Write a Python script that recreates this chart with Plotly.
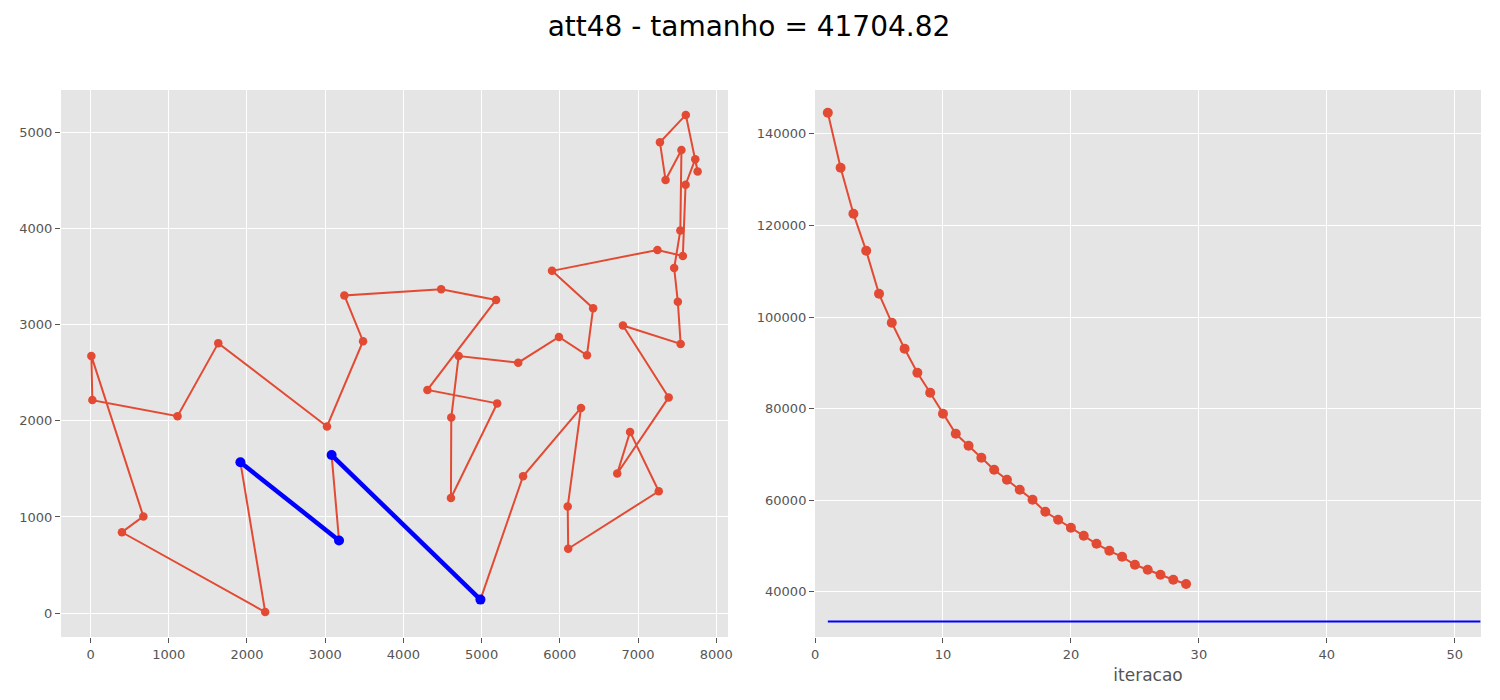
import plotly.graph_objects as go
from plotly.subplots import make_subplots

# att48 city coordinates (index 1..48)
cities_x = [6734, 2233, 5530, 401, 3082, 7608, 7573, 7265, 6898, 1112,
            5468, 5989, 4706, 4612, 6347, 6107, 7611, 7462, 7732, 5900,
            4483, 6101, 5199, 1633, 4307, 675, 7555, 7541, 3177, 7352,
            7545, 3245, 6426, 4608, 23, 7248, 7762, 7392, 3484, 6271,
            4985, 1916, 7280, 7509, 10, 6807, 5185, 3023]
cities_y = [1453, 10, 1424, 841, 1644, 4458, 3716, 1268, 1885, 2049,
            2606, 2873, 2674, 2035, 2683, 669, 5184, 3590, 4723, 3561,
            3369, 1110, 2182, 2809, 2322, 1006, 4819, 3981, 756, 4506,
            2801, 3305, 3173, 1198, 2216, 3779, 4595, 2244, 2829, 2135,
            140, 1569, 4899, 3239, 2676, 2993, 3258, 1942]

# tour (1-based city ids)
tour = [41, 3, 40, 22, 16, 8, 9, 1, 38, 46, 31, 44, 18, 28, 27, 30, 43, 17,
        37, 19, 6, 7, 36, 20, 33, 15, 12, 11, 13, 14, 34, 23, 25, 47, 21, 32,
        39, 48, 24, 10, 35, 45, 26, 4, 2, 42, 29, 5, 41]

# highlighted edges (blue)
swap_edges = [(42, 29), (5, 41)]

# convergence curve
iteracoes = list(range(1, 30))
tamanhos = [144585, 132576, 122533, 114454, 105066, 98734, 93057, 87817,
            83450, 78865, 74498, 71878, 69258, 66638, 64454, 62271, 60087,
            57467, 55721, 53974, 52227, 50480, 48952, 47642, 45895, 44803,
            43712, 42620, 41704.82]
otimo = 33523.71
otimo_x = [1, 52]

red = "#E24A33"
grey = "#555555"

fig = make_subplots(rows=1, cols=2, horizontal_spacing=0.06)

tx = [cities_x[c - 1] for c in tour]
ty = [cities_y[c - 1] for c in tour]
fig.add_trace(go.Scatter(x=tx, y=ty, mode="lines+markers",
                         line=dict(color=red, width=2),
                         marker=dict(color=red, size=8.5),
                         showlegend=False), row=1, col=1)

for a, b in swap_edges:
    fig.add_trace(go.Scatter(x=[cities_x[a - 1], cities_x[b - 1]],
                             y=[cities_y[a - 1], cities_y[b - 1]],
                             mode="lines+markers",
                             line=dict(color="blue", width=4.5),
                             marker=dict(color="blue", size=10),
                             showlegend=False), row=1, col=1)

fig.add_trace(go.Scatter(x=iteracoes, y=tamanhos, mode="lines+markers",
                         line=dict(color=red, width=2),
                         marker=dict(color=red, size=10),
                         showlegend=False), row=1, col=2)
fig.add_trace(go.Scatter(x=otimo_x, y=[otimo, otimo], mode="lines",
                         line=dict(color="blue", width=2),
                         showlegend=False), row=1, col=2)

axis_style = dict(showgrid=True, gridcolor="white", gridwidth=1.2,
                  zeroline=False, showline=False, ticks="outside",
                  ticklen=5, tickcolor=grey, automargin=False,
                  tickfont=dict(family="DejaVu Sans", size=13, color=grey))

fig.update_xaxes(axis_style)
fig.update_yaxes(axis_style)

fig.update_xaxes(domain=[0, 0.4697], range=[-378, 8150], dtick=1000, row=1, col=1)
fig.update_yaxes(range=[-249, 5443], dtick=1000, row=1, col=1)
fig.update_xaxes(domain=[0.531, 1.0], range=[0, 52.05], dtick=10,
                 title=dict(text="iteracao", standoff=8,
                            font=dict(family="DejaVu Sans", size=17, color=grey)),
                 row=1, col=2)
fig.update_yaxes(range=[30130, 149565], dtick=20000, tickformat="d", row=1, col=2)

# page body adds an 8px offset, so margins are shifted by that amount
fig.update_layout(
    width=1500, height=700,
    margin=dict(l=53, r=27, t=82, b=71),
    paper_bgcolor="white",
    plot_bgcolor="#E5E5E5",
    title=dict(text="att48 - tamanho = 41704.82", x=0.494, xanchor="center",
               y=0.974, yanchor="middle",
               font=dict(family="DejaVu Sans", size=28, color="black")),
)

fig.write_html("out.html")
